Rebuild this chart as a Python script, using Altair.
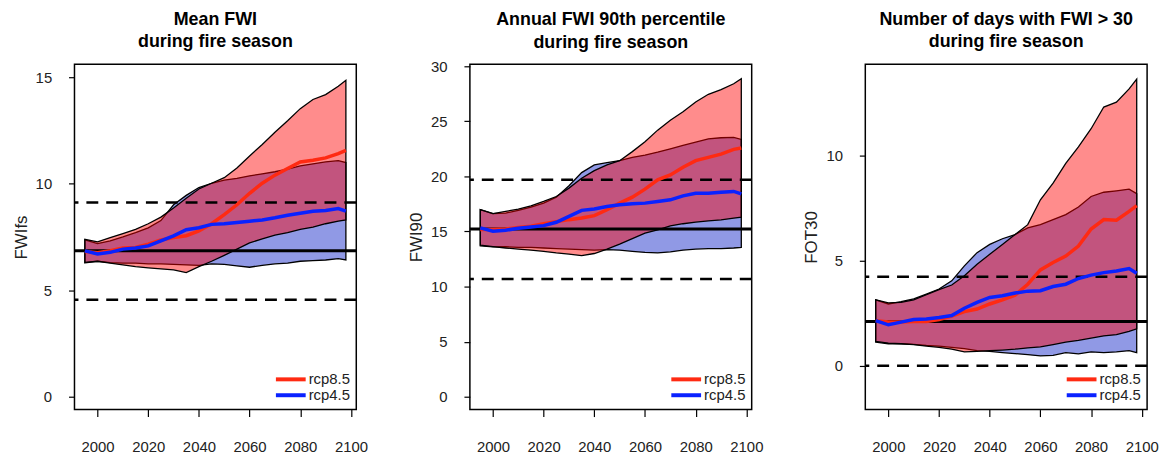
import altair as alt
import pandas as pd

YEARS = [1995, 2000, 2005, 2010, 2015, 2020, 2025, 2030, 2035, 2040, 2045,
         2050, 2055, 2060, 2065, 2070, 2075, 2080, 2085, 2090, 2095, 2098]
X_TICKS = [2000, 2020, 2040, 2060, 2080, 2100]
X_DOMAIN = [1990.9, 2102.1]
SCENARIOS = ["rcp8.5", "rcp4.5"]

# ---- Panel 1: Mean FWI ----
P1_TITLE = ["Mean FWI", "during fire season"]
P1_YTITLE = "FWIfs"
P1_DOMAIN = [-0.6, 15.6]
P1_TICKS = [0, 5, 10, 15]
P1_R85_HI = [7.39, 7.27, 7.47, 7.66, 7.86, 8.12, 8.43, 8.86, 9.32, 9.75, 10.02,
             10.28, 10.74, 11.30, 11.84, 12.41, 12.95, 13.52, 13.95, 14.18, 14.57, 14.85]
P1_R45_HI = [7.36, 7.19, 7.32, 7.50, 7.70, 7.93, 8.27, 9.01, 9.45, 9.82, 10.02,
             10.17, 10.25, 10.37, 10.46, 10.56, 10.68, 10.83, 10.93, 11.02, 11.08, 10.99]
P1_R45_LO = [6.28, 6.36, 6.30, 6.27, 6.27, 6.24, 6.24, 6.21, 6.19, 6.17, 6.24,
             6.21, 6.14, 6.08, 6.17, 6.24, 6.27, 6.36, 6.39, 6.42, 6.48, 6.42]
P1_R85_LO = [6.31, 6.36, 6.27, 6.19, 6.11, 6.05, 6.00, 5.96, 5.83, 6.11, 6.36,
             6.64, 6.93, 7.22, 7.41, 7.59, 7.70, 7.86, 7.96, 8.12, 8.24, 8.30]
P1_R85_MEAN = [6.82, 6.76, 6.85, 6.98, 7.01, 7.16, 7.36, 7.47, 7.56, 7.78, 8.12,
               8.55, 9.01, 9.55, 10.02, 10.40, 10.71, 11.02, 11.10, 11.21, 11.41, 11.56]
P1_R45_MEAN = [6.85, 6.70, 6.78, 6.93, 6.98, 7.08, 7.32, 7.55, 7.84, 7.93, 8.09,
               8.12, 8.18, 8.24, 8.30, 8.40, 8.52, 8.61, 8.71, 8.74, 8.83, 8.71]
P1_SOLID = [6.85]
P1_DASHED = [9.12, 4.55]

# ---- Panel 2: FWI 90th percentile ----
P2_TITLE = ["Annual FWI 90th percentile", "during fire season"]
P2_YTITLE = "FWI90"
P2_DOMAIN = [-1.16, 30.16]
P2_TICKS = [0, 5, 10, 15, 20, 25, 30]
P2_R85_HI = [16.97, 16.61, 16.82, 17.03, 17.33, 17.72, 18.17, 18.93, 19.83, 20.52, 21.03,
             21.42, 22.24, 23.14, 24.19, 25.09, 25.85, 26.75, 27.44, 27.86, 28.40, 28.85]
P2_R45_HI = [16.97, 16.61, 16.67, 16.91, 17.21, 17.57, 18.11, 19.14, 20.34, 21.03, 21.24,
             21.42, 21.72, 21.93, 22.20, 22.50, 22.80, 23.10, 23.40, 23.50, 23.53, 23.35]
P2_R45_LO = [13.70, 13.60, 13.62, 13.55, 13.55, 13.50, 13.45, 13.40, 13.35, 13.30, 13.35,
             13.30, 13.20, 13.10, 13.05, 13.15, 13.30, 13.40, 13.45, 13.45, 13.50, 13.55]
P2_R85_LO = [13.75, 13.62, 13.50, 13.40, 13.30, 13.20, 13.05, 12.95, 12.80, 13.00, 13.40,
             13.85, 14.35, 14.85, 15.15, 15.50, 15.70, 15.85, 15.95, 16.05, 16.20, 16.30]
P2_R85_MEAN = [15.17, 15.17, 15.23, 15.35, 15.47, 15.71, 15.89, 16.07, 16.22, 16.43, 16.97,
               17.57, 18.11, 18.84, 19.68, 20.13, 20.82, 21.42, 21.72, 22.02, 22.45, 22.57]
P2_R45_MEAN = [15.32, 15.02, 15.11, 15.29, 15.41, 15.53, 15.83, 16.37, 16.91, 17.03, 17.27,
               17.42, 17.51, 17.57, 17.72, 17.87, 18.23, 18.47, 18.47, 18.56, 18.63, 18.41]
P2_SOLID = [15.23]
P2_DASHED = [19.68, 10.69]

# ---- Panel 3: days with FWI > 30 ----
P3_TITLE = ["Number of days with FWI > 30", "during fire season"]
P3_YTITLE = "FOT30"
P3_DOMAIN = [-2.08, 14.33]
P3_TICKS = [0, 5, 10]
P3_R85_HI = [3.14, 2.99, 3.02, 3.14, 3.38, 3.62, 3.84, 4.28, 4.83, 5.30, 5.77,
             6.24, 6.71, 7.89, 8.68, 9.62, 10.41, 11.27, 12.30, 12.53, 13.16, 13.63]
P3_R45_HI = [3.14, 2.94, 3.05, 3.18, 3.41, 3.65, 4.04, 4.75, 5.38, 5.77, 6.04,
             6.24, 6.56, 6.71, 6.95, 7.19, 7.55, 8.05, 8.25, 8.32, 8.40, 8.18]
P3_R45_LO = [1.13, 1.05, 1.05, 1.02, 0.97, 0.94, 0.88, 0.82, 0.72, 0.69, 0.63,
             0.58, 0.53, 0.47, 0.50, 0.63, 0.57, 0.66, 0.63, 0.66, 0.72, 0.63]
P3_R85_LO = [1.16, 1.08, 1.05, 1.01, 0.94, 0.88, 0.79, 0.66, 0.69, 0.72, 0.75,
             0.79, 0.85, 0.90, 1.01, 1.13, 1.21, 1.32, 1.42, 1.48, 1.64, 1.76]
P3_R85_MEAN = [2.15, 2.08, 2.08, 2.11, 2.11, 2.20, 2.36, 2.58, 2.70, 2.94, 3.14,
               3.36, 3.88, 4.56, 4.91, 5.22, 5.69, 6.50, 6.95, 6.92, 7.34, 7.61]
P3_R45_MEAN = [2.15, 1.95, 2.08, 2.20, 2.23, 2.30, 2.39, 2.74, 3.02, 3.25, 3.33,
               3.46, 3.55, 3.57, 3.77, 3.88, 4.15, 4.31, 4.43, 4.51, 4.62, 4.40]
P3_SOLID = [2.11]
P3_DASHED = [4.23, 0.0]

FONT = "Liberation Sans"
RED_FILL = "#FF0000"
BLUE_FILL = "#2233CC"
LINE_COLORS = ["#FF2A12", "#0A22FF"]


def make_panel(title, ytitle, ydomain, yticks, r85_hi, r45_hi, r45_lo, r85_lo,
               r85_mean, r45_mean, solid, dashed, title_offset):
    band = pd.DataFrame({"year": YEARS, "r85_hi": r85_hi, "r85_lo": r85_lo,
                         "r45_hi": r45_hi, "r45_lo": r45_lo})
    means = pd.DataFrame({
        "year": YEARS * 2,
        "value": list(r85_mean) + list(r45_mean),
        "scenario": ["rcp8.5"] * len(YEARS) + ["rcp4.5"] * len(YEARS),
    })
    solid_df = pd.DataFrame({"v": solid})
    dashed_df = pd.DataFrame({"v": dashed})

    xenc = alt.X("year:Q",
                 scale=alt.Scale(domain=X_DOMAIN, nice=False, zero=False),
                 axis=alt.Axis(values=X_TICKS, format="d", title=None))
    yscale = alt.Scale(domain=ydomain, nice=False, zero=False)
    yaxis = alt.Axis(values=yticks, title=ytitle)

    def Y(field):
        return alt.Y(field, scale=yscale, axis=yaxis, title=ytitle)

    blue = alt.Chart(band).mark_area(
        fill=BLUE_FILL, fillOpacity=0.5, stroke="black", strokeWidth=1.3,
        strokeOpacity=1).encode(x=xenc, y=Y("r45_lo:Q"), y2="r45_hi:Q")
    red = alt.Chart(band).mark_area(
        fill=RED_FILL, fillOpacity=0.45, stroke="black", strokeWidth=1.3,
        strokeOpacity=1).encode(x=xenc, y=Y("r85_lo:Q"), y2="r85_hi:Q")
    solid_rule = alt.Chart(solid_df).mark_rule(
        color="black", strokeWidth=3).encode(y=Y("v:Q"))
    dashed_rule = alt.Chart(dashed_df).mark_rule(
        color="black", strokeWidth=2.5, strokeDash=[12, 8]).encode(y=Y("v:Q"))

    color = alt.Color(
        "scenario:N",
        scale=alt.Scale(domain=SCENARIOS, range=LINE_COLORS),
        legend=alt.Legend(title=None, orient="bottom-right", offset=6,
                          padding=0, rowPadding=-2, labelOffset=3,
                          symbolType="M-4.5,0L1.5,0", symbolSize=100,
                          symbolStrokeWidth=4, labelFontSize=15,
                          labelFont=FONT, labelColor="#222222"))
    red_line = alt.Chart(means).transform_filter(
        alt.datum.scenario == "rcp8.5").mark_line(strokeWidth=3.5).encode(
        x=xenc, y=Y("value:Q"), color=color)
    blue_line = alt.Chart(means).transform_filter(
        alt.datum.scenario == "rcp4.5").mark_line(strokeWidth=3.5).encode(
        x=xenc, y=Y("value:Q"), color=color)

    return alt.layer(blue, red, solid_rule, dashed_rule, red_line, blue_line).properties(
        width=284, height=348,
        title=alt.TitleParams(text=title, fontSize=18, font=FONT,
                              fontWeight="bold", anchor="middle",
                              offset=title_offset, lineHeight=23,
                              color="black", frame="group"))


p1 = make_panel(P1_TITLE, P1_YTITLE, P1_DOMAIN, P1_TICKS, P1_R85_HI, P1_R45_HI,
                P1_R45_LO, P1_R85_LO, P1_R85_MEAN, P1_R45_MEAN, P1_SOLID, P1_DASHED, 13)
p2 = make_panel(P2_TITLE, P2_YTITLE, P2_DOMAIN, P2_TICKS, P2_R85_HI, P2_R45_HI,
                P2_R45_LO, P2_R85_LO, P2_R85_MEAN, P2_R45_MEAN, P2_SOLID, P2_DASHED, 7)
p3 = make_panel(P3_TITLE, P3_YTITLE, P3_DOMAIN, P3_TICKS, P3_R85_HI, P3_R45_HI,
                P3_R45_LO, P3_R85_LO, P3_R85_MEAN, P3_R45_MEAN, P3_SOLID, P3_DASHED, 13)

chart = alt.hconcat(p1, p2, p3, spacing=114.5, bounds="flush").resolve_scale(
    color="independent").properties(
    padding={"left": 3, "top": 0, "right": 0, "bottom": 0}
).configure(font=FONT).configure_view(
    stroke="black", strokeWidth=1.5
).configure_axis(
    grid=False, domain=False, tickColor="black", tickWidth=1.2,
    labelFont=FONT, titleFont=FONT, labelColor="#222222", titleColor="#222222",
    labelFontSize=15
).configure_axisY(
    tickSize=6, labelPadding=17, titleFontSize=17, titleFontWeight="normal",
    titlePadding=5
).configure_axisX(
    tickSize=7, labelPadding=23
)

chart.save("out.html", embed_options={"renderer": "svg", "actions": False})
